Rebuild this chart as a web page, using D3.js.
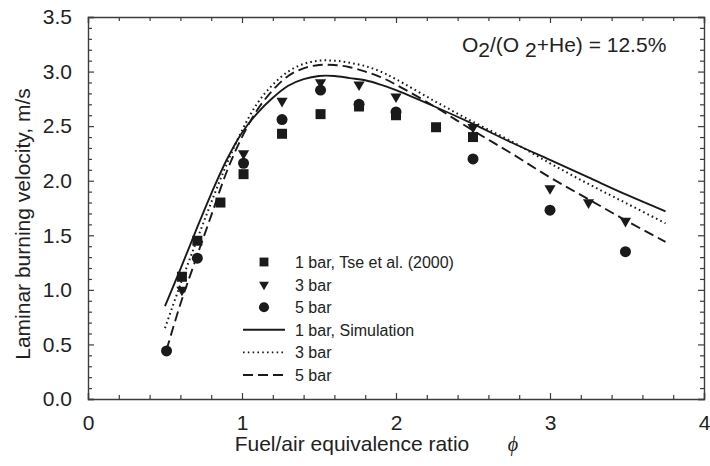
<!DOCTYPE html>
<html>
<head>
<meta charset="utf-8">
<script src="https://cdn.jsdelivr.net/npm/d3@7"></script>
<style>
  body { margin: 0; background: #fff; }
  svg { display: block; font-family: "Liberation Sans", Arial, sans-serif; }
</style>
</head>
<body>
<div id="chart"></div>
<script>
// Tse et al. (2000) measurements, phi vs. laminar burning velocity (m/s)
const exp1bar = [[0.61,1.12],[0.71,1.45],[0.86,1.80],[1.01,2.06],[1.26,2.43],[1.51,2.61],[1.76,2.68],[2.0,2.60],[2.26,2.49],[2.5,2.40]]
const exp3bar = [[0.61,1.00],[1.01,2.25],[1.26,2.73],[1.51,2.90],[1.76,2.88],[2.0,2.77],[2.5,2.49],[3.0,1.93],[3.25,1.80],[3.49,1.63]]
const exp5bar = [[0.51,0.44],[0.71,1.29],[1.01,2.16],[1.26,2.56],[1.51,2.83],[1.76,2.70],[2.0,2.63],[2.5,2.20],[3.0,1.73],[3.49,1.35]]

// simulation curves
const sim1bar = [[0.5,0.85],[0.6,1.19],[0.7,1.54],[0.8,1.88],[0.9,2.19],[1.0,2.44],[1.1,2.62],[1.2,2.76],[1.3,2.87],[1.4,2.93],[1.5,2.96],[1.6,2.96],[1.7,2.94],[1.8,2.92],[1.9,2.88],[2.0,2.83],[2.25,2.68],[2.5,2.52],[2.75,2.35],[3.0,2.19],[3.25,2.03],[3.5,1.87],[3.75,1.72]]
const sim3bar = [[0.5,0.65],[0.6,1.05],[0.7,1.43],[0.8,1.80],[0.9,2.15],[1.0,2.46],[1.1,2.71],[1.2,2.88],[1.3,3.00],[1.4,3.07],[1.5,3.10],[1.6,3.10],[1.7,3.08],[1.8,3.05],[1.9,3.00],[2.0,2.93],[2.25,2.73],[2.5,2.54],[2.75,2.36],[3.0,2.16],[3.25,1.97],[3.5,1.79],[3.75,1.61]]
const sim5bar = [[0.51,0.45],[0.6,0.87],[0.7,1.28],[0.8,1.68],[0.9,2.08],[1.0,2.40],[1.1,2.65],[1.2,2.83],[1.3,2.96],[1.4,3.03],[1.5,3.06],[1.6,3.06],[1.7,3.04],[1.8,3.00],[1.9,2.95],[2.0,2.88],[2.25,2.68],[2.5,2.46],[2.75,2.25],[3.0,2.03],[3.25,1.83],[3.5,1.63],[3.75,1.44]]

const xTicks = [0, 1, 2, 3, 4]
const yTicks = [0, 0.5, 1.0, 1.5, 2.0, 2.5, 3.0, 3.5]
const legendLabels = ['1 bar, Tse et al. (2000)', '3 bar', '5 bar', '1 bar, Simulation', '3 bar', '5 bar']

const W = 710, H = 466
const m = { top: 17, right: 6, bottom: 67, left: 88 }
const ink = '#1a1a1a', axisInk = '#3c3c3c'

const svg = d3.select('#chart').append('svg').attr('width', W).attr('height', H)

const x = d3.scaleLinear().domain([0, 4]).range([m.left, W - m.right])
const y = d3.scaleLinear().domain([0, 3.5]).range([H - m.bottom, m.top])

const xMinor = d3.range(0, 4.001, 0.2).filter(v => Math.abs(v - Math.round(v)) > 1e-6)
const yMinor = d3.range(0, 3.501, 0.1).filter(v => Math.abs(v * 2 - Math.round(v * 2)) > 1e-6)

function styleAxis(g) {
  g.select('.domain').attr('stroke', axisInk).attr('stroke-width', 1.4)
  g.selectAll('.tick line').attr('stroke', axisInk).attr('stroke-width', 1.2)
  g.selectAll('text').attr('fill', '#222').style('font-size', '21px')
    .style('font-family', '"Liberation Sans", Arial, sans-serif')
}

// bottom + top
svg.append('g').attr('transform', `translate(0,${y(0)})`)
  .call(d3.axisBottom(x).tickValues(xTicks).tickFormat(d3.format('d')).tickSize(-6).tickPadding(16))
  .call(styleAxis)
svg.append('g').attr('transform', `translate(0,${y(0)})`)
  .call(d3.axisBottom(x).tickValues(xMinor).tickFormat('').tickSize(-4))
  .call(styleAxis).select('.domain').remove()
svg.append('g').attr('transform', `translate(0,${y(3.5)})`)
  .call(d3.axisTop(x).tickValues(xTicks).tickFormat('').tickSize(-6))
  .call(styleAxis)
svg.append('g').attr('transform', `translate(0,${y(3.5)})`)
  .call(d3.axisTop(x).tickValues(xMinor).tickFormat('').tickSize(-4))
  .call(styleAxis).select('.domain').remove()

// left + right
svg.append('g').attr('transform', `translate(${x(0)},0)`)
  .call(d3.axisLeft(y).tickValues(yTicks).tickFormat(d3.format('.1f')).tickSize(-6).tickPadding(16))
  .call(styleAxis)
svg.append('g').attr('transform', `translate(${x(0)},0)`)
  .call(d3.axisLeft(y).tickValues(yMinor).tickFormat('').tickSize(-4))
  .call(styleAxis).select('.domain').remove()
svg.append('g').attr('transform', `translate(${x(4)},0)`)
  .call(d3.axisRight(y).tickValues(yTicks).tickFormat('').tickSize(-6))
  .call(styleAxis)
svg.append('g').attr('transform', `translate(${x(4)},0)`)
  .call(d3.axisRight(y).tickValues(yMinor).tickFormat('').tickSize(-4))
  .call(styleAxis).select('.domain').remove()

// axis titles
svg.append('text')
  .attr('transform', `translate(30,224) rotate(-90)`)
  .attr('text-anchor', 'middle').attr('fill', '#222').style('font-size', '21px')
  .text('Laminar burning velocity, m/s')
svg.append('text').attr('x', 352).attr('y', 451)
  .attr('text-anchor', 'middle').attr('fill', '#222').style('font-size', '21px')
  .text('Fuel/air equivalence ratio')
svg.append('text').attr('x', 513).attr('y', 451)
  .attr('text-anchor', 'middle').attr('fill', '#222')
  .style('font-family', '"Liberation Serif", serif').style('font-style', 'italic').style('font-size', '20px')
  .text('ϕ')

// annotation
const ann = svg.append('text').attr('x', 462).attr('y', 52).attr('fill', '#222').style('font-size', '21px')
ann.append('tspan').text('O')
ann.append('tspan').attr('dy', 5).text('2')
ann.append('tspan').attr('dy', -5).text('/(O ')
ann.append('tspan').attr('dy', 5).text('2')
ann.append('tspan').attr('dy', -5).text('+He) = 12.5%')

// simulation lines
const line = d3.line().x(d => x(d[0])).y(d => y(d[1])).curve(d3.curveCatmullRom.alpha(0.5))
const sims = [
  { data: sim1bar, dash: null, w: 1.9 },
  { data: sim3bar, dash: '1.6,3.2', w: 2 },
  { data: sim5bar, dash: '10,5', w: 1.9 }
]
svg.selectAll('path.sim').data(sims).join('path')
  .attr('class', 'sim')
  .attr('d', d => line(d.data))
  .attr('fill', 'none').attr('stroke', ink)
  .attr('stroke-width', d => d.w)
  .attr('stroke-dasharray', d => d.dash)

// experimental markers
const symSquare = d3.symbol().type(d3.symbolSquare).size(100)
const symTri = d3.symbol().type(d3.symbolTriangle).size(54)
const symCircle = d3.symbol().type(d3.symbolCircle).size(95)

svg.selectAll('path.e1').data(exp1bar).join('path').attr('class', 'e1')
  .attr('d', symSquare).attr('fill', ink)
  .attr('transform', d => `translate(${x(d[0])},${y(d[1])})`)
svg.selectAll('path.e5').data(exp5bar).join('path').attr('class', 'e5')
  .attr('d', symCircle).attr('fill', ink)
  .attr('transform', d => `translate(${x(d[0])},${y(d[1])})`)
svg.selectAll('path.e3').data(exp3bar).join('path').attr('class', 'e3')
  .attr('d', symTri).attr('fill', ink)
  .attr('transform', d => `translate(${x(d[0])},${y(d[1])}) rotate(180)`)

// legend
const lg = svg.append('g').attr('transform', 'translate(243,262)')
const rowH = 22.6
const legendItems = legendLabels.map((t, i) => ({ t, i }))
const row = lg.selectAll('g').data(legendItems).join('g')
  .attr('transform', d => `translate(0,${d.i * rowH})`)
row.append('text').attr('x', 52).attr('y', 6).attr('fill', '#222')
  .style('font-size', '16px').text(d => d.t)
const legSyms = [
  d3.symbol().type(d3.symbolSquare).size(78),
  d3.symbol().type(d3.symbolTriangle).size(42),
  d3.symbol().type(d3.symbolCircle).size(80)
]
row.filter(d => d.i < 3).append('path')
  .attr('d', d => legSyms[d.i]())
  .attr('fill', ink)
  .attr('transform', d => `translate(21,0) rotate(${d.i === 1 ? 180 : 0})`)
row.filter(d => d.i >= 3).append('line')
  .attr('x1', 0).attr('x2', 42).attr('y1', 0).attr('y2', 0)
  .attr('stroke', ink).attr('stroke-width', 1.9)
  .attr('stroke-dasharray', d => sims[d.i - 3].dash)
</script>
</body>
</html>
